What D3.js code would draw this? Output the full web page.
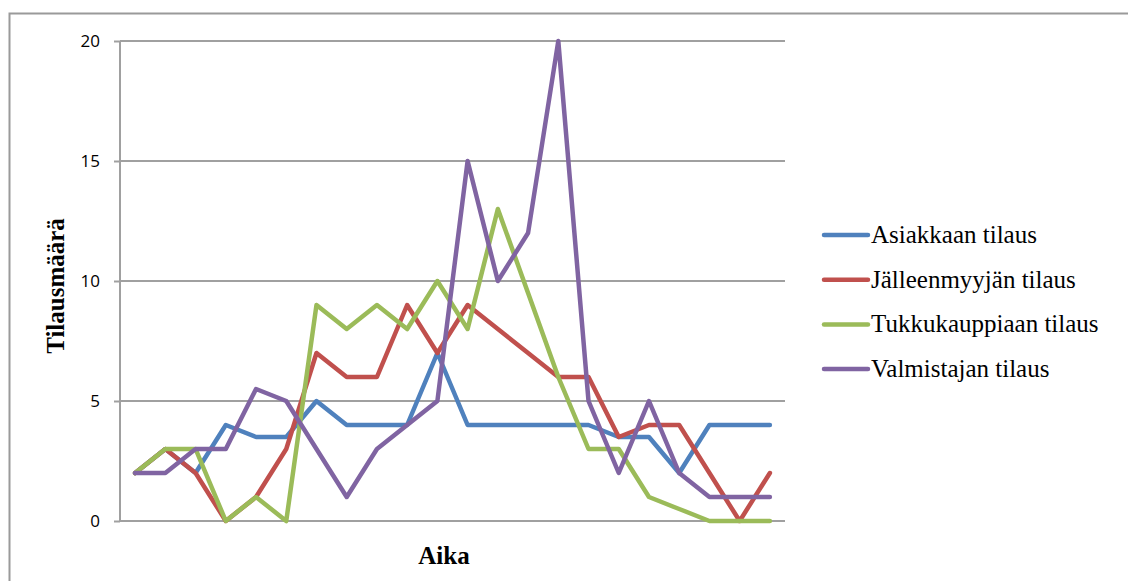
<!DOCTYPE html>
<html lang="fi">
<head>
<meta charset="UTF-8">
<script src="https://d3js.org/d3.v7.min.js"></script>
<style>
  body { margin: 0; background: #fff; }
  .tick text { font-family: "Open Sans", "Liberation Sans", sans-serif; font-size: 17px; fill: #000; }
  .label { font-family: "Liberation Serif", "DejaVu Serif", serif; font-weight: bold; font-size: 25px; }
  .legend text { font-family: "Liberation Serif", "DejaVu Serif", serif; font-size: 25px; }
</style>
</head>
<body>
<svg class="chart" width="1128" height="581"></svg>
<script>

// periods 1..22 along "Aika"
const periods = d3.range(1, 23)
const seriesNames = ["Asiakkaan tilaus", "Jälleenmyyjän tilaus", "Tukkukauppiaan tilaus", "Valmistajan tilaus"]
const asiakas    = [2, 3, 2, 4, 3.5, 3.5, 5, 4, 4, 4, 7, 4, 4, 4, 4, 4, 3.5, 3.5, 2, 4, 4, 4]
const jalleen    = [2, 3, 2, 0, 1, 3, 7, 6, 6, 9, 7, 9, 8, 7, 6, 6, 3.5, 4, 4, 2, 0, 2]
const tukku      = [2, 3, 3, 0, 1, 0, 9, 8, 9, 8, 10, 8, 13, 9.5, 6, 3, 3, 1, 0.5, 0, 0, 0]
const valmistaja = [2, 2, 3, 3, 5.5, 5, 3, 1, 3, 4, 5, 15, 10, 12, 20, 5, 2, 5, 2, 1, 1, 1]
const yTicks = [0, 5, 10, 15, 20]

const colors = ["#4F81BD", "#C0504D", "#9BBB59", "#8064A2"]
const series = [asiakas, jalleen, tukku, valmistaja]

let margin = {top: 41, left: 120},
    width = 665,
    height = 480

let svg = d3.select(".chart")

// outer frame (only top and left edges are in view)
svg.append("path")
    .attr("d", "M9.5,581 V13.5 H1128")
    .attr("fill", "none")
    .attr("stroke", "#9a9a9a")
    .attr("stroke-width", 2)

let chart = svg.append("g")
    .attr("transform", `translate(${margin.left},${margin.top})`)

let x = d3.scaleBand()
    .domain(periods)
    .range([0, width])

let y = d3.scaleLinear()
    .domain([0, 20])
    .range([height, 0])

// gridlines
chart.append("g")
    .selectAll("line")
    .data(yTicks)
    .join("line")
    .attr("x1", 0)
    .attr("x2", width)
    .attr("y1", d => y(d))
    .attr("y2", d => y(d))
    .attr("stroke", "#a0a0a0")
    .attr("stroke-width", 2)

// y axis
let yAxis = chart.append("g")
    .call(d3.axisLeft(y).tickValues(yTicks).tickSize(6).tickPadding(14))
yAxis.selectAll("line, path").attr("stroke", "#a0a0a0").attr("stroke-width", 2)
yAxis.select(".domain").attr("d", `M0,${height}V0`)

// lines
let line = d3.line()
    .x((d, i) => x(periods[i]) + x.bandwidth() / 2)
    .y(d => y(d))

chart.selectAll(".series")
  .data(series)
  .join("path")
    .attr("class", "series")
    .attr("d", d => line(d))
    .attr("fill", "none")
    .attr("stroke", (d, i) => colors[i])
    .attr("stroke-width", 4.5)
    .attr("stroke-linejoin", "round")
    .attr("stroke-linecap", "round")

// axis labels
svg.append("text")
    .attr("class", "label")
    .attr("text-anchor", "middle")
    .attr("transform", `translate(64,286) rotate(-90)`)
    .text("Tilausmäärä")

svg.append("text")
    .attr("class", "label")
    .attr("text-anchor", "middle")
    .attr("x", 444)
    .attr("y", 564)
    .text("Aika")

// legend
let legend = svg.append("g")
    .attr("class", "legend")
    .attr("transform", "translate(824,235)")
  .selectAll("g")
  .data(seriesNames)
  .join("g")
    .attr("transform", (d, i) => `translate(0,${i * 44.7})`)

legend.append("line")
    .attr("x1", 0)
    .attr("x2", 44)
    .attr("stroke", (d, i) => colors[i])
    .attr("stroke-width", 4.5)
    .attr("stroke-linecap", "round")

legend.append("text")
    .attr("x", 47)
    .attr("y", 8)
    .text(d => d)

</script>
</body>
</html>
